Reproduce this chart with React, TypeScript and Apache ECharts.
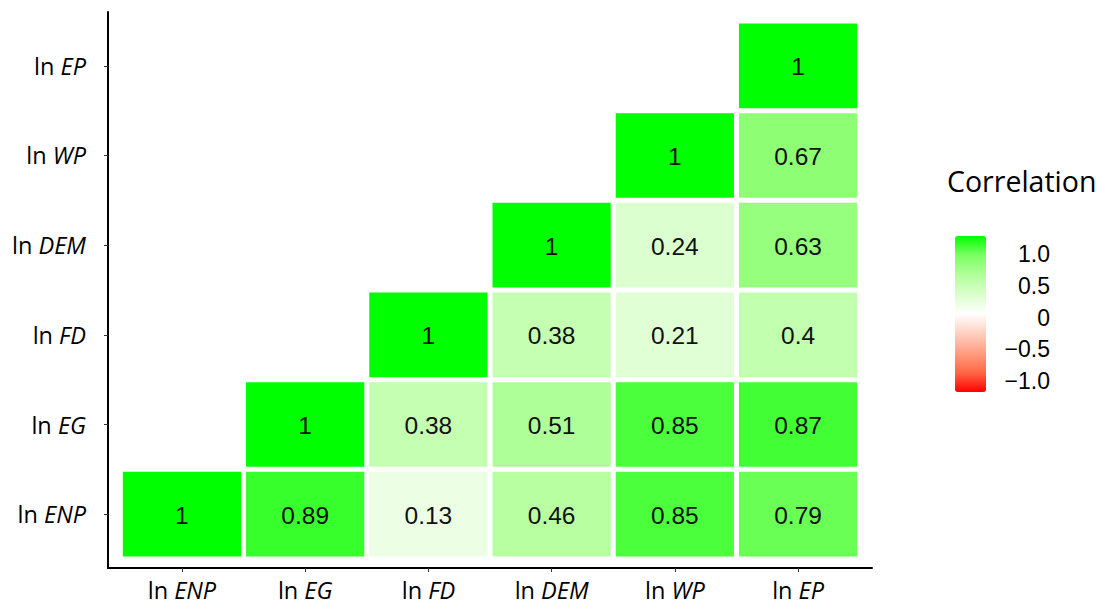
import React, { useEffect, useRef } from "react";
import * as echarts from "echarts";

// Variables (bottom-to-top on y, left-to-right on x)
const variables = ["ENP", "EG", "FD", "DEM", "WP", "EP"];

// Correlation rows (row variable vs column variables from the diagonal rightwards)
const rowENP = [1, 0.89, 0.13, 0.46, 0.85, 0.79]; // vs ENP, EG, FD, DEM, WP, EP
const rowEG = [1, 0.38, 0.51, 0.85, 0.87]; // vs EG, FD, DEM, WP, EP
const rowFD = [1, 0.38, 0.21, 0.4]; // vs FD, DEM, WP, EP
const rowDEM = [1, 0.24, 0.63]; // vs DEM, WP, EP
const rowWP = [1, 0.67]; // vs WP, EP
const rowEP = [1]; // vs EP

const rows = [rowENP, rowEG, rowFD, rowDEM, rowWP, rowEP];

// Legend
const legendTitle = "Correlation";
const legendTicks = [-1, -0.5, 0, 0.5, 1];
const legendTickLabels = ["\u22121.0", "\u22120.5", "0", "0.5", "1.0"];

// Colour scale (white mid, red low, green high, Lab-like stops)
const scaleColors = [
  "#FF0000",
  "#FF6846",
  "#FF9E81",
  "#FFCFBF",
  "#FFFFFF",
  "#DBFFCD",
  "#B1FF9A",
  "#7DFF64",
  "#00FF00",
];

export default function App() {
  const ref = useRef<HTMLDivElement>(null);

  useEffect(() => {
    if (!ref.current) return;
    const chart = echarts.init(ref.current, null, { renderer: "svg" });

    const data: number[][] = [];
    rows.forEach((row, r) => {
      row.forEach((v, k) => {
        const col = r + k; // column index
        data.push([col + 1, r + 1, v]);
      });
    });

    const positions = variables.map((_, i) => i + 1);

    const axisLabelCommon = {
      customValues: positions,
      fontFamily: "Open Sans",
      fontSize: 23.5,
      color: "#000",
      formatter: (v: number) => `ln {i|${variables[Math.round(v) - 1]}}`,
      rich: {
        i: { fontFamily: "Open Sans", fontSize: 23.5, fontStyle: "italic", color: "#000" },
      },
    };

    const option: any = {
      animation: false,
      backgroundColor: "#ffffff",
      title: {
        text: legendTitle,
        left: 947,
        top: 166,
        padding: 0,
        textStyle: {
          fontFamily: "Open Sans",
          fontSize: 28.5,
          fontWeight: "normal",
          color: "#000000",
        },
      },
      grid: [
        { left: 108, right: 226, top: 12, bottom: 38 },
        { left: 1000, right: 48, top: 254, height: 127 },
      ],
      xAxis: [
        {
          type: "value",
          gridIndex: 0,
          min: 0.4,
          max: 6.6,
          splitLine: { show: false },
          axisLine: { show: true, onZero: false, lineStyle: { color: "#000", width: 2 } },
          axisTick: {
            show: true,
            customValues: positions,
            length: 4,
            lineStyle: { color: "#333", width: 1 },
          },
          axisLabel: { ...axisLabelCommon, margin: 10 },
        },
        {
          type: "value",
          gridIndex: 1,
          min: 0,
          max: 1,
          show: false,
        },
      ],
      yAxis: [
        {
          type: "value",
          gridIndex: 0,
          min: 0.4,
          max: 6.6,
          splitLine: { show: false },
          axisLine: { show: true, onZero: false, lineStyle: { color: "#000", width: 2 } },
          axisTick: {
            show: true,
            customValues: positions,
            length: 4,
            lineStyle: { color: "#333", width: 1 },
          },
          axisLabel: { ...axisLabelCommon, margin: 22 },
        },
        {
          type: "value",
          gridIndex: 1,
          position: "right",
          min: -1,
          max: 1,
          interval: 0.5,
          splitLine: { show: false },
          axisLine: { show: false },
          axisTick: { show: false },
          axisLabel: {
            margin: 0,
            align: "right",
            fontFamily: "Liberation Sans",
            fontSize: 23,
            color: "#000",
            formatter: (v: number) => {
              const idx = legendTicks.findIndex((t) => Math.abs(t - v) < 1e-6);
              return idx >= 0 ? legendTickLabels[idx] : "";
            },
          },
        },
      ],
      visualMap: {
        type: "continuous",
        min: -1,
        max: 1,
        dimension: 2,
        seriesIndex: 0,
        calculable: false,
        show: true,
        left: 955,
        top: 236,
        padding: 0,
        itemWidth: 31,
        itemHeight: 156,
        text: null,
        inRange: { color: scaleColors },
      },
      series: [
        {
          type: "custom",
          xAxisIndex: 0,
          yAxisIndex: 0,
          data,
          renderItem: (params: any, api: any) => {
            const x = api.value(0);
            const y = api.value(1);
            const v = api.value(2);
            const p0 = api.coord([x - 0.5, y + 0.5]);
            const p1 = api.coord([x + 0.5, y - 0.5]);
            const gap = 2.5;
            const rx = p0[0] + gap;
            const ry = p0[1] + gap;
            const w = p1[0] - p0[0] - 2 * gap;
            const h = p1[1] - p0[1] - 2 * gap;
            return {
              type: "group",
              children: [
                {
                  type: "rect",
                  shape: { x: rx, y: ry, width: w, height: h },
                  style: { fill: api.visual("color") },
                },
                {
                  type: "text",
                  x: rx + w / 2,
                  y: ry + h / 2 + 1,
                  style: {
                    text: String(v),
                    fill: "#111",
                    fontFamily: "Liberation Sans",
                    fontSize: 24.5,
                    textAlign: "center",
                    textVerticalAlign: "middle",
                  },
                },
              ],
            };
          },
        },
      ],
    };

    chart.setOption(option);
    return () => chart.dispose();
  }, []);

  return (
    <div
      ref={ref}
      style={{ position: "fixed", left: 0, top: 0, width: 1098, height: 606 }}
    />
  );
}
